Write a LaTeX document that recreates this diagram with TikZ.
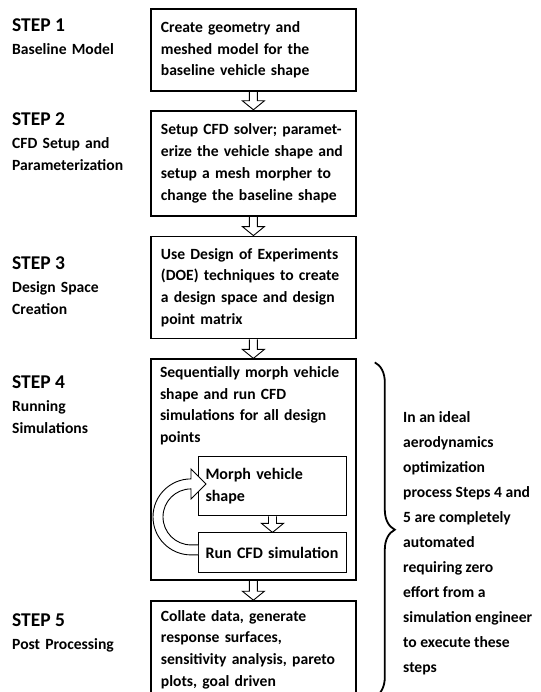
\documentclass[tikz,border=0pt]{standalone}
\usepackage{fontspec}
\setmainfont{Carlito}
\usetikzlibrary{positioning,calc,decorations.pathreplacing}

\newcommand{\boxfont}{\fontsize{15.6pt}{21.8pt}\selectfont\bfseries}
\newcommand{\subfont}{\fontsize{16pt}{22pt}\selectfont\bfseries}
\newcommand{\headfont}{\fontsize{19.5pt}{23pt}\selectfont\bfseries}
\newcommand{\notefont}{\fontsize{15.6pt}{25pt}\selectfont\bfseries}

% hollow block arrow from the bottom of #1 to the top of #2
\newcommand{\hollowdown}[2]{%
  \draw[hollow] let \p1=(#1.south), \p2=(#2.north) in
    (\x1-4pt,\y1) -- (\x1-4pt,\y2+9pt) -- (\x1-11pt,\y2+9pt) -- (\x1,\y2)
    -- (\x1+11pt,\y2+9pt) -- (\x1+4pt,\y2+9pt) -- (\x1+4pt,\y1);}

\tikzset{
  boxtext/.style={text width=185pt, inner xsep=10pt, align=left, font=\boxfont},
  stepbox/.style={boxtext, draw, line width=1.8pt, inner ysep=0pt},
  subbox/.style={draw, line width=1pt, text width=134pt, inner xsep=7pt, inner ysep=0pt, align=left, font=\subfont},
  stephead/.style={anchor=west, inner sep=0pt, font=\headfont},
  steptext/.style={inner sep=0pt, text width=135pt, align=left, font=\boxfont},
  notetext/.style={inner sep=0pt, align=left, font=\notefont},
  hollow/.style={line width=0.9pt, line join=miter},
  stepbrace/.style={decorate, decoration={brace, amplitude=20pt}, line width=1.8pt},
}

\begin{document}
\begin{tikzpicture}[x=1pt, y=1pt]
\useasboundingbox (0,0) rectangle (540,-692);

% flow boxes
\node[stepbox, minimum height=82pt, anchor=north west] (b1) at (150,-8) {Create geometry and\\meshed model for the\\baseline vehicle shape};
\node[stepbox, minimum height=105pt, below=18pt of b1] (b2) {Setup CFD solver; paramet-\\erize the vehicle shape and\\setup a mesh morpher to\\change the baseline shape};
\node[stepbox, minimum height=102pt, below=19pt of b2] (b3) {Use Design of Experiments\\(DOE) techniques to create\\a design space and design\\point matrix};
\node[stepbox, minimum height=221pt, below=19pt of b3] (b4) {};
\node[stepbox, minimum height=97pt, below=19pt of b4] (b5) {Collate data, generate\\response surfaces,\\sensitivity analysis, pareto\\plots, goal driven};

% inside step 4
\node[boxtext, inner ysep=8pt, outer sep=0pt, anchor=north west] (b4t) at (b4.north west) {Sequentially morph vehicle\\shape and run CFD\\simulations for all design\\points};
\node[subbox, minimum height=59pt, anchor=north west] (morph) at ($(b4.north west)+(48,-98)$) {Morph vehicle\\shape};
\node[subbox, minimum height=40pt, below=16pt of morph] (run) {Run CFD simulation};

\hollowdown{b1}{b2}
\hollowdown{b2}{b3}
\hollowdown{b3}{b4}
\hollowdown{b4}{b5}
\hollowdown{morph}{run}

% loop back
\draw[hollow, fill=white] ($(run.west)+(0,-2)$) -- ++(-7,0) arc[start angle=270, end angle=90, radius=38]
  -- ++(0,10) -- ++(15,-15) -- ++(-15,-15) -- ++(0,10) arc[start angle=90, end angle=270, radius=28] -- ++(7,0);

% step labels
\node[stephead] (h1) at (12,-25) {STEP 1};
\node[steptext, below right=12pt and 0pt of h1.south west] (t1) {Baseline Model};
\node[stephead] (h2) at (12,-119) {STEP 2};
\node[steptext, below right=12pt and 0pt of h2.south west] (t2) {CFD Setup and\\Parameterization};
\node[stephead] (h3) at (12,-263) {STEP 3};
\node[steptext, below right=12pt and 0pt of h3.south west] (t3) {Design Space\\Creation};
\node[stephead] (h4) at (12,-382) {STEP 4};
\node[steptext, below right=12pt and 0pt of h4.south west] (t4) {Running\\Simulations};
\node[stephead] (h5) at (12,-620) {STEP 5};
\node[steptext, below right=12pt and 0pt of h5.south west] (t5) {Post Processing};

% brace and note
\draw[stepbrace] ($(b4.north east)+(18,-4)$) -- ($(b5.south east)+(18,2)$);
\node[notetext, anchor=west] (note) at (403,-543) {In an ideal\\aerodynamics\\optimization\\process Steps 4 and\\5 are completely\\automated\\requiring zero\\effort from a\\simulation engineer\\to execute these\\steps};
\end{tikzpicture}
\end{document}
